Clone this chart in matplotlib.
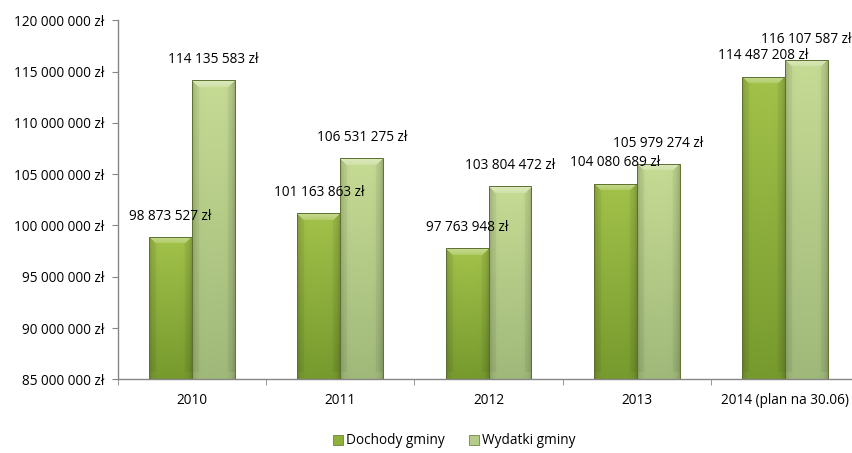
import numpy as np
import matplotlib
matplotlib.use('Agg')
import matplotlib.pyplot as plt
from matplotlib.colors import to_rgb

# ---- data ----
years = ['2010', '2011', '2012', '2013', '2014 (plan na 30.06)']
dochody = [98873527, 101163863, 97763948, 104080689, 114487208]
wydatki = [114135583, 106531275, 103804472, 105979274, 116107587]
series_names = ['Dochody gminy', 'Wydatki gminy']
yticks = list(range(85_000_000, 120_000_001, 5_000_000))

plt.rcParams['font.family'] = ['Open Sans', 'DejaVu Sans']
FS = 9.8

def fmt(v):
    return f"{v:,.0f}".replace(',', ' ') + ' zł'

W_PX, H_PX = 852, 453
fig = plt.figure(figsize=(W_PX / 100, H_PX / 100), dpi=100)
ax_l, ax_b, ax_w, ax_h = 118, 73.7, 741, 359.1
ax = fig.add_axes([ax_l / W_PX, ax_b / H_PX, ax_w / W_PX, ax_h / H_PX])

base = yticks[0]
top = yticks[-1]
x = np.arange(len(years))
bw = 0.29
series = [dochody, wydatki]
offsets = [-bw / 2, bw / 2]
pal = [('#a2c24a', '#779a2e', '#8db13b'), ('#c6db94', '#a0b97a', '#b5cd88')]

px_per_unit = ax_h / (top - base)
px_per_cat = ax_w / len(years)

for vals, off, (ctop, cbot, cmid), name in zip(series, offsets, pal, series_names):
    vals = np.array(vals, dtype=float)
    bars = ax.bar(x + off, vals - base, bottom=base, width=bw, color=cmid,
                  edgecolor='#5d7030', linewidth=0.7, label=name, zorder=2)
    t = np.array(to_rgb(ctop)); b = np.array(to_rgb(cbot))
    for rect, v in zip(bars, vals):
        hpx = (v - base) * px_per_unit
        wpx = bw * px_per_cat
        nr, nc = max(int(hpx), 2), max(int(wpx), 2)
        rr = np.linspace(0, 1, nr)[:, None]
        cc = np.linspace(-1, 1, nc)[None, :]
        img = t[None, None, :] * (1 - rr[..., None]) + b[None, None, :] * rr[..., None]
        img = np.broadcast_to(img, (nr, nc, 3)).copy()
        shade = 1 - 0.16 * np.abs(cc) ** 6
        img *= shade[..., None]
        # bevel at the top
        bev = 7
        ri = np.arange(nr)[:, None]
        ci = np.arange(nc)[None, :]
        mask = (ri < bev) & (ci >= ri) & (ci <= nc - 1 - ri)
        grad = (1 - ri / bev)
        light = t[None, None, :] + (1 - t[None, None, :]) * (0.15 + 0.25 * grad[..., None])
        light = np.broadcast_to(light, (nr, nc, 3))
        img[mask] = light[mask]
        side = ((ci < np.minimum(ri, bev)) | (nc - 1 - ci < np.minimum(ri, bev))) & (ri < nr - bev)
        img[side] = img[side] * 0.95
        x0 = rect.get_x()
        im = ax.imshow(np.clip(img, 0, 1), extent=[x0, x0 + rect.get_width(), base, v],
                       aspect='auto', zorder=2.5, interpolation='bilinear')
        im.set_clip_path(rect)
        ax.annotate(fmt(v), (x0 + rect.get_width() / 2, v), xytext=(0, 15),
                    textcoords='offset points', ha='center', va='center',
                    fontsize=FS, color='#000000', zorder=5, annotation_clip=False)
    for rect in bars:
        rect.set_facecolor('none')
        rect.set_zorder(3)

ax.set_xlim(-0.5, len(years) - 0.5)
ax.set_ylim(base, top)
ax.set_yticks(yticks)
ax.set_yticklabels([fmt(v) for v in yticks], fontsize=FS)
ax.set_xticks(x)
ax.set_xticklabels(years, fontsize=FS)
ax.set_xticks(np.arange(len(years) + 1) - 0.5, minor=True)
ax.tick_params(axis='x', which='major', length=0, pad=10)
ax.tick_params(axis='x', which='minor', length=4, color='#868686', direction='out')
ax.tick_params(axis='y', length=4, color='#868686', direction='out', pad=6)
for s in ['top', 'right']:
    ax.spines[s].set_visible(False)
for s in ['left', 'bottom']:
    ax.spines[s].set_color('#868686')
    ax.spines[s].set_linewidth(1)

handles = [plt.Rectangle((0, 0), 1, 1, facecolor=p[2], edgecolor='#5d7030', linewidth=0.5) for p in pal]
fig.legend(handles, series_names, loc='center', bbox_to_anchor=(454 / W_PX, 12 / H_PX),
           ncol=2, frameon=False, fontsize=FS, handlelength=0.75, handleheight=0.75,
           handletextpad=0.2, columnspacing=1.8)

fig.savefig('out.png', dpi=100)
